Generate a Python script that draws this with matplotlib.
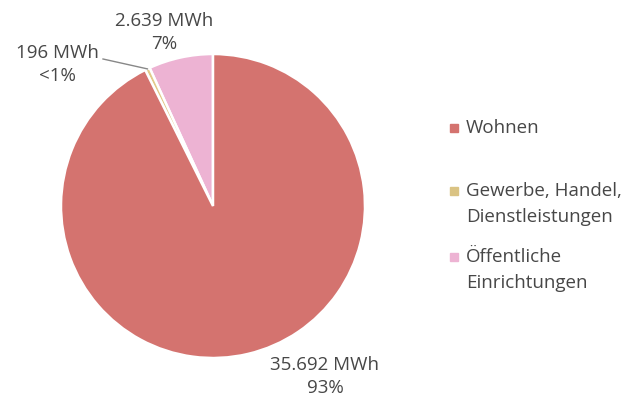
import numpy as np
import matplotlib
matplotlib.use("Agg")
import matplotlib.pyplot as plt

# data (MWh), drawn counter-clockwise from 12 o'clock
categories = ["Öffentliche\nEinrichtungen", "Gewerbe, Handel,\nDienstleistungen", "Wohnen"]
values = [2639, 196, 35692]
colors = ["#edb3d3", "#e2ca8a", "#d4736f"]
legend_order = ["Wohnen", "Gewerbe, Handel,\nDienstleistungen", "Öffentliche\nEinrichtungen"]
legend_colors = ["#d4736f", "#dac383", "#edb3d3"]

plt.rcParams["font.family"] = ["Open Sans", "DejaVu Sans"]
TXT = "#474747"
FS = 13.5


def fmt_mwh(v):
    return "{:,}".format(v).replace(",", ".") + " MWh"


def fmt_pct(v, total):
    p = v / total * 100
    return "<1%" if p < 1 else "{:.0f}%".format(p)


fig = plt.figure(figsize=(6.41, 4.01), dpi=100)
ax = fig.add_axes([0, 0, 1, 1])
ax.axis("off")

# pixel-like data coords (y up)
cx, cy, r = 213, 195, 152
wedges, _ = ax.pie(values, colors=colors, startangle=90, counterclock=True,
                   center=(cx, cy), radius=r,
                   wedgeprops=dict(edgecolor="white", linewidth=1.8))
ax.set_xlim(0, 641)
ax.set_ylim(0, 401)
ax.set_aspect("equal")

total = sum(values)
labels = [fmt_mwh(v) + "\n" + fmt_pct(v, total) for v in values]
label_pos = [(164, 401 - 32), (57, 401 - 64), (325, 401 - 376)]
for t, (x, y) in zip(labels, label_pos):
    l1, l2 = t.split("\n")
    ax.text(x, y + 11, l1, ha="center", va="center", fontsize=FS, color=TXT)
    ax.text(x, y - 12, l2, ha="center", va="center", fontsize=FS, color=TXT)

# leader line for the small slice
w = wedges[1]
mid = np.deg2rad((w.theta1 + w.theta2) / 2)
ex, ey = cx + r * np.cos(mid), cy + r * np.sin(mid)
ax.plot([103, ex], [401 - 59, ey], color="#888888", lw=1)

# legend
leg_y = [128, 191, 257]
for name, c, yy in zip(legend_order, legend_colors, leg_y):
    ax.plot([454], [401 - yy], marker="s", ms=6.2, color=c, ls="none")
    for i, line in enumerate(name.split("\n")):
        ax.text(466, 401 - yy - 26 * i, line, ha="left", va="center", fontsize=FS, color=TXT)

fig.savefig("out.png", dpi=100, facecolor="white")
